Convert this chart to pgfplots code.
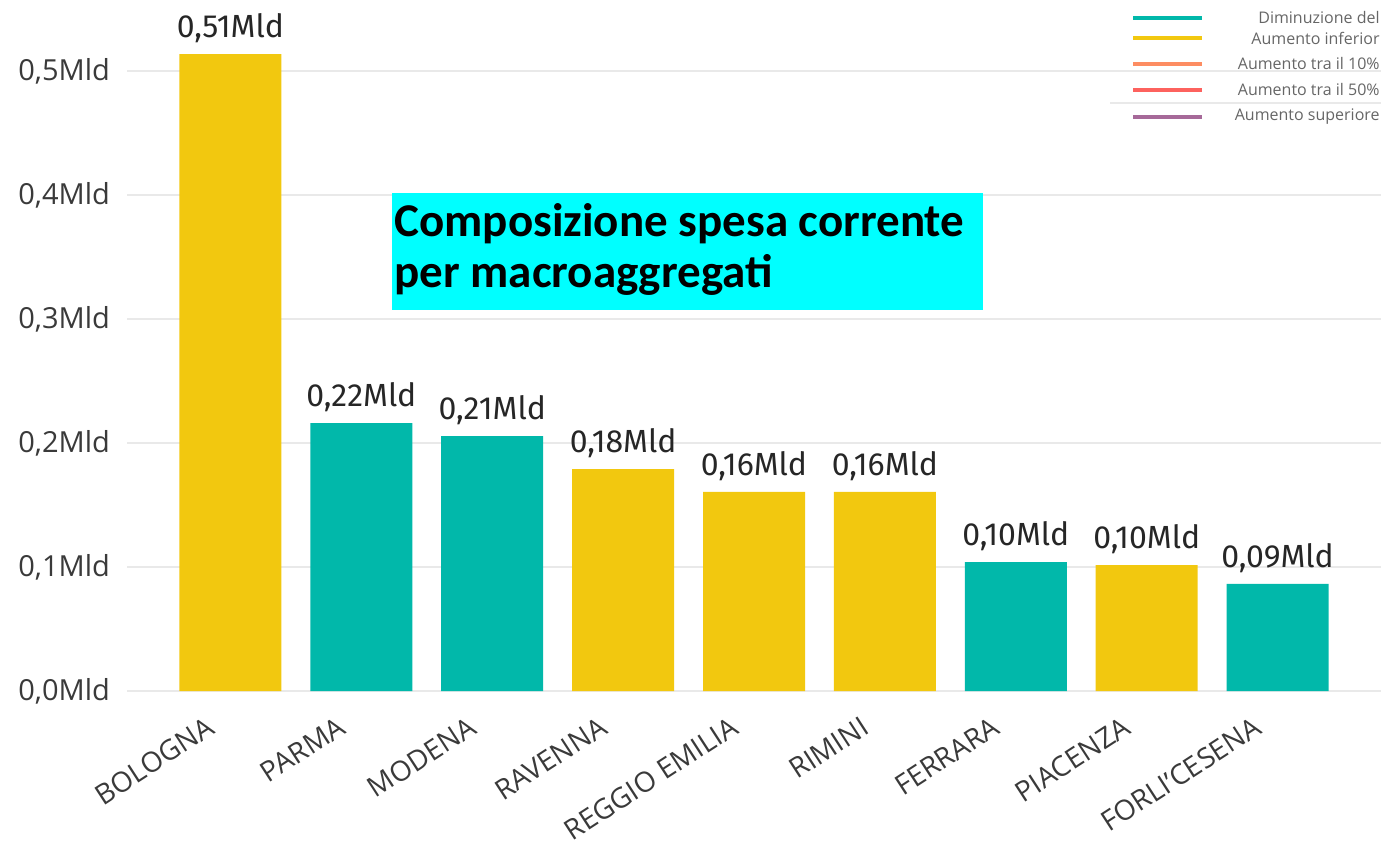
\documentclass[border=0pt]{standalone}
\usepackage{pgfplots}
\pgfplotsset{compat=1.18}
\usepackage{pgfplotstable}
\usepackage{fontspec}
\setmainfont{Open Sans}
\newfontfamily\labfont{Fira Sans}
\newfontfamily\titlefont{Carlito}
\definecolor{pbiteal}{HTML}{01B8AA}
\definecolor{pbiyellow}{HTML}{F2C80F}
\definecolor{pbisalmon}{HTML}{FD8D62}
\definecolor{pbired}{HTML}{FD625E}
\definecolor{pbipurple}{HTML}{A66999}
\definecolor{gridgray}{HTML}{E9E9E9}
\definecolor{ticktext}{HTML}{3A3A3A}
\definecolor{titlecyan}{HTML}{00FFFF}

\pgfplotstableread{
x y lab
0 0.5137 {0,51Mld}
3 0.1790 {0,18Mld}
4 0.1605 {0,16Mld}
5 0.1605 {0,16Mld}
7 0.1016 {0,10Mld}
}\yellowdata
\pgfplotstableread{
x y lab
1 0.2160 {0,22Mld}
2 0.2056 {0,21Mld}
6 0.1040 {0,10Mld}
8 0.0863 {0,09Mld}
}\tealdata

\begin{document}
\begin{tikzpicture}
\useasboundingbox (0,0) rectangle (690.5pt,420.5pt);
\begin{axis}[
  at={(63.5pt,75pt)}, anchor=south west,
  scale only axis, width=627pt, height=341pt,
  xmin=-0.79, xmax=8.79, ymin=0, ymax=0.55,
  axis line style={draw=none},
  major tick length=0pt,
  ytick={0,0.1,0.2,0.3,0.4,0.5},
  yticklabels={{0,0Mld},{0,1Mld},{0,2Mld},{0,3Mld},{0,4Mld},{0,5Mld}},
  ymajorgrids, grid style={color=gridgray, line width=0.9pt},
  xtick={0,1,2,3,4,5,6,7,8},
  xticklabels={BOLOGNA,PARMA,MODENA,RAVENNA,REGGIO EMILIA,RIMINI,FERRARA,PIACENZA,FORLI'CESENA},
  yticklabel style={font=\fontsize{14.5}{17}\selectfont, text=ticktext, xshift=-5pt},
  xticklabel style={font=\fontsize{14}{16}\selectfont, text=ticktext, inner sep=0pt, anchor=north east, xshift=-12.5pt, yshift=-12pt, rotate=33},
  ybar, bar width=51pt, bar shift=0pt,
  point meta=explicit symbolic,
  nodes near coords,
  nodes near coords style={font=\labfont\fontsize{16}{19}\selectfont, text=black!85, anchor=south, yshift=2pt},
  clip=false,
]
\addplot[fill=pbiyellow, draw=none] table[x=x, y=y, meta=lab] {\yellowdata};
\addplot[fill=pbiteal, draw=none] table[x=x, y=y, meta=lab] {\tealdata};
\end{axis}

% title box
\fill[titlecyan] (196pt,265.5pt) rectangle (491.5pt,324pt);
\node[anchor=base west, inner sep=0pt, font=\titlefont\bfseries\fontsize{23.5}{28}\selectfont] at (197pt,302pt) {Composizione spesa corrente};
\node[anchor=base west, inner sep=0pt, font=\titlefont\bfseries\fontsize{23.5}{28}\selectfont] at (197pt,276.5pt) {per macroaggregati};

% legend
\draw[gridgray, line width=0.6pt] (555pt,369pt) -- (690.5pt,369pt);
\begin{scope}[line width=1.6pt]
\draw[pbiteal]   (566.5pt,411.5pt) -- (601pt,411.5pt);
\draw[pbiyellow] (566.5pt,401.5pt) -- (601pt,401.5pt);
\draw[pbisalmon] (566.5pt,388.5pt) -- (601pt,388.5pt);
\draw[pbired]    (566.5pt,375.5pt) -- (601pt,375.5pt);
\draw[pbipurple] (566.5pt,362pt) -- (601pt,362pt);
\end{scope}
\begin{scope}[every node/.style={anchor=east, inner sep=0pt, font=\fontsize{8}{9}\selectfont, text=black!60}]
\node at (690pt,411.5pt) {Diminuzione del};
\node at (690pt,401.5pt) {Aumento inferior};
\node at (690pt,388.5pt) {Aumento tra il 10\%};
\node at (690pt,375.5pt) {Aumento tra il 50\%};
\node at (690pt,362pt) {Aumento superiore};
\end{scope}
\end{tikzpicture}
\end{document}
